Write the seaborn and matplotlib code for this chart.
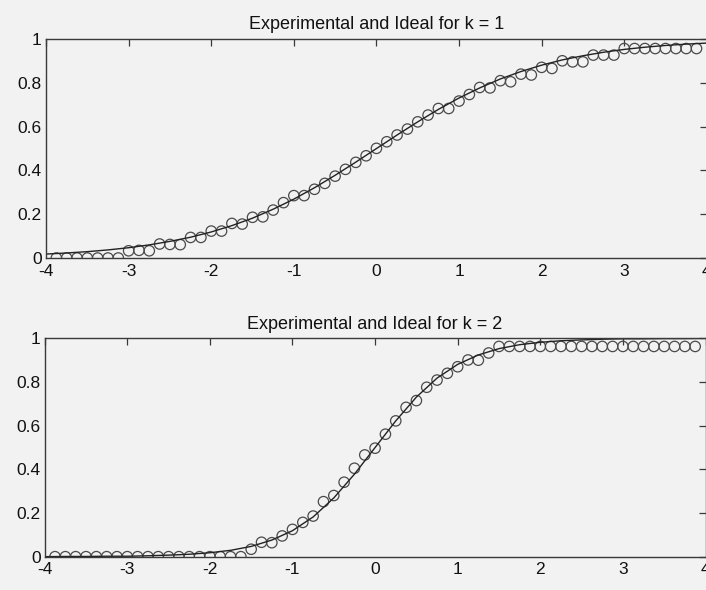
import numpy as np
import pandas as pd
import matplotlib
matplotlib.use("Agg")
import matplotlib.pyplot as plt
import seaborn as sns

# sample positions of the experimental points (step 1/8)
x_exp = np.arange(-3.875, 3.876, 0.125)

# experimental values, k = 1
y_exp_k1 = [0, 0, 0, 0, 0, 0, 0,
            0.033, 0.035, 0.033, 0.064, 0.062, 0.061, 0.094, 0.094,
            0.123, 0.123, 0.158, 0.155, 0.186, 0.188,
            0.219, 0.253, 0.285, 0.285, 0.314, 0.341, 0.374, 0.405, 0.437, 0.467, 0.501,
            0.531, 0.562, 0.589, 0.622, 0.653, 0.683, 0.683, 0.717,
            0.747, 0.779, 0.777, 0.810, 0.805, 0.840, 0.836, 0.871,
            0.866, 0.901, 0.896, 0.896, 0.927, 0.927, 0.927,
            0.957, 0.957, 0.957, 0.957, 0.957, 0.957, 0.957, 0.957]

# experimental values, k = 2
y_exp_k2 = [0, 0, 0, 0, 0, 0, 0, 0, 0, 0, 0, 0, 0, 0, 0, 0, 0, 0, 0,
            0.034, 0.066, 0.064, 0.095, 0.125, 0.157, 0.186, 0.252, 0.280, 0.341, 0.405, 0.466,
            0.497, 0.561, 0.622, 0.684, 0.715, 0.776, 0.809, 0.840, 0.870, 0.901, 0.900, 0.933,
            0.963, 0.963, 0.963, 0.963, 0.963, 0.963, 0.963, 0.963, 0.963, 0.963,
            0.963, 0.963, 0.963, 0.963, 0.963, 0.963, 0.963, 0.963, 0.963, 0.963]

# ideal curves read at quarter steps
x_ideal = np.arange(-4, 4.001, 0.25)
y_ideal_k1 = [0.018, 0.023, 0.029, 0.037, 0.047, 0.060, 0.076, 0.095, 0.119, 0.148,
              0.182, 0.223, 0.269, 0.321, 0.378, 0.438, 0.500, 0.562, 0.622, 0.679,
              0.731, 0.777, 0.818, 0.852, 0.881, 0.905, 0.924, 0.940, 0.953, 0.963,
              0.971, 0.977, 0.982]
y_ideal_k2 = [0.000, 0.001, 0.001, 0.002, 0.002, 0.004, 0.007, 0.011, 0.018, 0.029,
              0.047, 0.076, 0.119, 0.182, 0.269, 0.378, 0.500, 0.622, 0.731, 0.818,
              0.881, 0.924, 0.953, 0.971, 0.982, 0.989, 0.993, 0.996, 0.998, 0.998,
              0.999, 0.999, 1.000]

titles = ["Experimental and Ideal for k = 1", "Experimental and Ideal for k = 2"]

sns.set_theme(style="white")
plt.rcParams['font.family'] = ['Liberation Sans', 'DejaVu Sans']
plt.rcParams['axes.unicode_minus'] = False  # MATLAB style hyphen minus

paper = '#f2f2f2'
ink = '#3a3a3a'

fig = plt.figure(figsize=(7.06, 5.90), dpi=100, facecolor=paper)
ax_top = fig.add_axes([0.0652, 0.5627, 0.936, 0.371])
ax_bot = fig.add_axes([0.0633, 0.0565, 0.936, 0.370])

panels = [
    (ax_top, y_exp_k1, y_ideal_k1, titles[0]),
    (ax_bot, y_exp_k2, y_ideal_k2, titles[1]),
]

for ax, y_exp, y_ideal, title in panels:
    ax.set_facecolor(paper)
    ideal = pd.DataFrame({'x': x_ideal, 'y': y_ideal})
    exp = pd.DataFrame({'x': x_exp, 'y': y_exp})
    sns.lineplot(data=ideal, x='x', y='y', ax=ax, color='#222222', linewidth=1.0)
    sns.scatterplot(data=exp, x='x', y='y', ax=ax, s=56, marker='o',
                    facecolor='none', edgecolor='#4a4a4a', linewidth=0.9)

    ax.set_xlim(-4, 4)
    ax.set_ylim(0, 1)
    ax.set_xticks(range(-4, 5))
    ax.set_yticks([0, 0.2, 0.4, 0.6, 0.8, 1])
    ax.set_yticklabels(['0', '0.2', '0.4', '0.6', '0.8', '1'])
    ax.set_xlabel('')
    ax.set_ylabel('')
    ax.set_title(title, fontsize=13, color='#111111', pad=7)
    ax.tick_params(direction='in', length=5, width=0.9, color=ink,
                   top=True, right=True, labelsize=12.5, labelcolor='#111111')
    ax.tick_params(axis='x', pad=4)
    ax.tick_params(axis='y', pad=3)
    for sp in ax.spines.values():
        sp.set_color(ink)
        sp.set_linewidth(1.0)

fig.savefig('out.png', dpi=100, facecolor=paper)
